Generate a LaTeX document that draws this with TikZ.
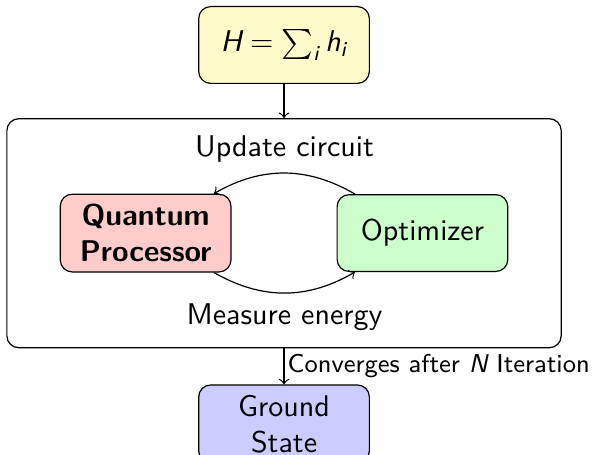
\documentclass[tikz,border=0pt]{standalone}
\usepackage{amsmath,amssymb}
\usepackage{tikz}
\usetikzlibrary{positioning,fit}
\renewcommand{\familydefault}{\sfdefault}
% sans slanted letters in formulas
\newcommand{\sfv}[1]{\text{\normalfont\slshape #1}}

\begin{document}
\begin{tikzpicture}[node distance=12pt,
  block/.style={draw,rounded corners,align=center,minimum width=2cm,minimum height=0.9cm}]
\useasboundingbox (-94.7pt,15pt) rectangle (104.67pt,-136.67pt);
\node[block,fill=yellow!20] (ham) {$\sfv{H}=\sum_{\sfv{i}}\sfv{h}_{\sfv{i}}$};
\coordinate[below=49.7pt of ham] (mid);
\node[block,fill=red!20,font=\bfseries,left=17.5pt of mid] (qpu) {Quantum\\Processor};
\node[block,fill=green!20,right=17.5pt of mid] (opt) {Optimizer};
\draw[->] (opt) to[bend right] node[above] (upd) {Update circuit} (qpu);
\draw[->] (qpu) to[bend right] node[below] (meas) {Measure energy} (opt);
\node[draw,rounded corners,fit=(qpu)(opt)(upd)(meas),inner xsep=17.6pt,inner ysep=2.2pt] (loop) {};
\node[block,fill=blue!20,below=of loop] (gs) {Ground\\State};
\draw[->] (ham) -- (loop);
\draw[->] (loop) -- node[right,font=\fontsize{8.6pt}{10pt}\selectfont,inner xsep=1pt] {Converges after $\sfv{N}$ Iteration} (gs);
\end{tikzpicture}
\end{document}
